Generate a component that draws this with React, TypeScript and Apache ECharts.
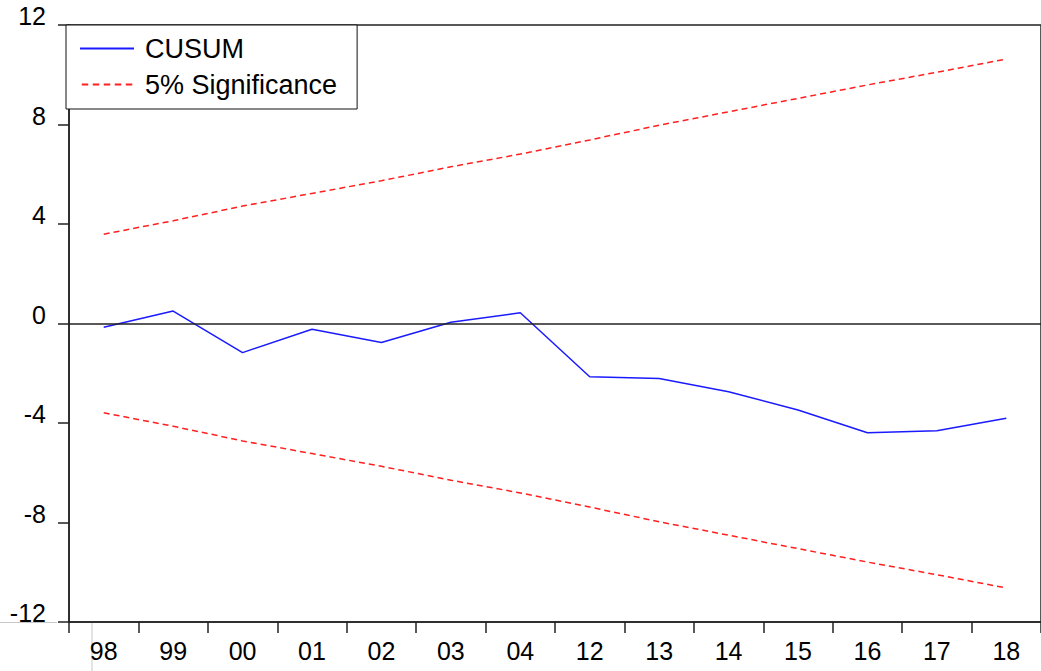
import React, { useEffect, useRef } from "react";
import * as echarts from "echarts";

const categories = ["98", "99", "00", "01", "02", "03", "04", "12", "13", "14", "15", "16", "17", "18"];
const cusum = [-0.15, 0.5, -1.17, -0.23, -0.76, 0.05, 0.43, -2.14, -2.21, -2.74, -3.48, -4.39, -4.31, -3.81];
const upper5 = [3.59, 4.13, 4.72, 5.23, 5.74, 6.3, 6.81, 7.38, 7.97, 8.51, 9.05, 9.59, 10.1, 10.63];
const lower5 = [-3.59, -4.13, -4.72, -5.23, -5.74, -6.3, -6.81, -7.38, -7.97, -8.51, -9.05, -9.59, -10.1, -10.63];
const yMin = -12;
const yMax = 12;
const yStep = 4;

const FONT = "'Liberation Sans', Arial, sans-serif";

// legend icons (pure styling): solid bar and dashed bar, 54 x 2 box
const solidIcon = "path://M0 0H54V2H0Z";
function dashedIcon(): string {
  let d = "";
  for (let x = 0; x < 54; x += 11) {
    const w = Math.min(6.5, 54 - x);
    d += `M${x} 0H${x + w}V2H${x}Z`;
  }
  return "path://" + d;
}

export default function App() {
  const ref = useRef<HTMLDivElement>(null);
  useEffect(() => {
    if (!ref.current) return;
    const chart = echarts.init(ref.current, undefined, { renderer: "svg" });
    chart.setOption({
      animation: false,
      backgroundColor: "#fff",
      grid: {
        left: 69,
        top: 25,
        width: 980,
        height: 597,
        show: true,
        borderColor: "#222",
        borderWidth: 1.5,
        backgroundColor: "transparent",
      },
      legend: {
        left: 66,
        top: 25,
        orient: "vertical",
        backgroundColor: "#fff",
        borderColor: "#111",
        borderWidth: 1,
        borderRadius: 0,
        padding: [10, 20, 11, 14],
        itemGap: 9,
        itemWidth: 54,
        itemHeight: 2,
        textStyle: { fontFamily: FONT, fontSize: 27, color: "#000", padding: [0, 0, 0, 6] },
        data: [
          { name: "CUSUM", icon: solidIcon, itemStyle: { color: "#1a1aff" } },
          { name: "5% Significance", icon: dashedIcon(), itemStyle: { color: "#ff2020" } },
        ],
      },
      xAxis: {
        type: "category",
        data: categories,
        boundaryGap: true,
        axisLine: { show: true, onZero: false, lineStyle: { color: "#222", width: 1.5 } },
        axisTick: { show: true, inside: false, length: 11, lineStyle: { color: "#222", width: 1.5 } },
        axisLabel: { fontFamily: FONT, fontSize: 25, color: "#000", margin: 16 },
        splitLine: { show: false },
      },
      yAxis: {
        type: "value",
        min: yMin,
        max: yMax,
        interval: yStep,
        axisLine: { show: true, lineStyle: { color: "#222", width: 1.5 } },
        axisTick: { show: true, inside: false, length: 11, lineStyle: { color: "#222", width: 1.5 } },
        axisLabel: {
          fontFamily: FONT,
          fontSize: 25,
          color: "#000",
          margin: 23,
          verticalAlign: "bottom",
          lineHeight: 18,
        },
        splitLine: { show: false },
      },
      series: [
        {
          name: "CUSUM",
          type: "line",
          data: cusum,
          symbol: "none",
          lineStyle: { color: "#1a1aff", width: 1.5 },
          itemStyle: { color: "#1a1aff" },
          z: 3,
          markLine: {
            silent: true,
            symbol: "none",
            label: { show: false },
            lineStyle: { color: "#222", width: 1.5, type: "solid" },
            data: [{ yAxis: 0 }],
          },
        },
        {
          name: "5% Significance",
          type: "line",
          data: upper5,
          symbol: "none",
          lineStyle: { color: "#ff2020", width: 1.5, type: [6, 4] },
          itemStyle: { color: "#ff2020" },
          z: 2,
        },
        {
          name: "5% Significance",
          type: "line",
          data: lower5,
          symbol: "none",
          lineStyle: { color: "#ff2020", width: 1.5, type: [6, 4] },
          itemStyle: { color: "#ff2020" },
          z: 2,
        },
      ],
      graphic: [
        { type: "line", shape: { x1: 0, y1: 622.5, x2: 57, y2: 622.5 }, style: { stroke: "#c8c8c8", lineWidth: 1 }, z: -1 },
        { type: "line", shape: { x1: 92, y1: 623, x2: 92, y2: 671 }, style: { stroke: "#c8c8c8", lineWidth: 1 }, z: -1 },
      ],
    });
    return () => chart.dispose();
  }, []);
  return (
    <div
      ref={ref}
      style={{ position: "absolute", left: 0, top: 0, width: 1041, height: 671, overflow: "hidden" }}
    />
  );
}
